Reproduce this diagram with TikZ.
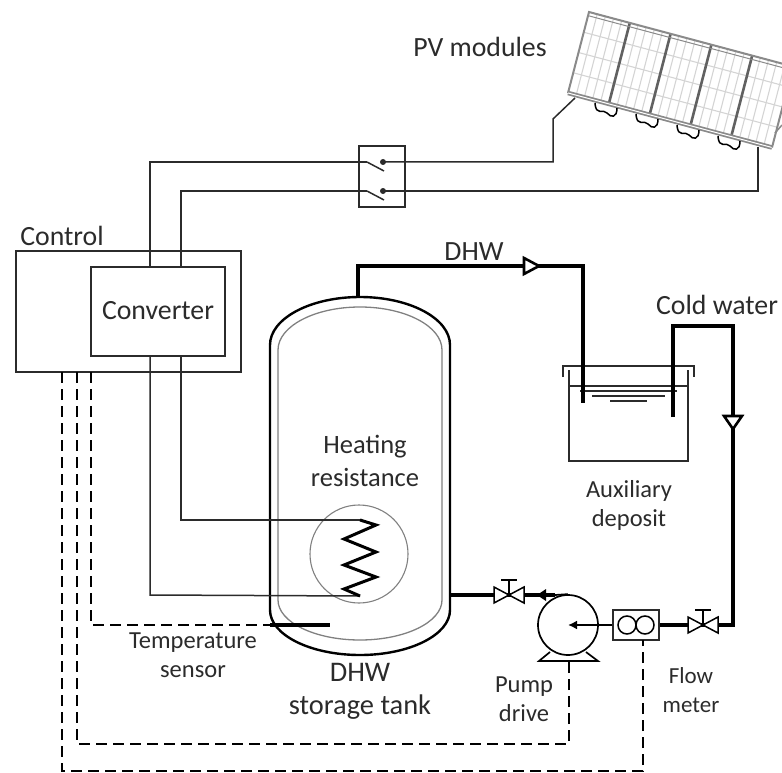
\documentclass[tikz,border=0pt]{standalone}
\usepackage{fontspec}
\setmainfont{Carlito}
\usetikzlibrary{arrows.meta}
\definecolor{inkgray}{HTML}{2B2B2B}
\definecolor{framegray}{HTML}{8A8A8A}
\definecolor{gridgray}{HTML}{D4D4D4}
\tikzset{
  wire/.style={draw=inkgray, line width=1.5pt},
  pipe/.style={draw=black, line width=3.6pt, line join=miter},
  signal/.style={draw=black, line width=1.4pt, dash pattern=on 11pt off 6pt},
  box/.style={draw=inkgray, line width=1.5pt, fill=white, inner sep=0pt},
  biglabel/.style={text=inkgray, font=\fontsize{27.8}{33}\selectfont, align=center, inner sep=0pt},
  smalllabel/.style={text=inkgray, font=\fontsize{24.5}{29}\selectfont, align=center, inner sep=0pt},
  pics/valve/.style={code={
    \draw[draw=black, line width=1.5pt, fill=white] (-15,-8) -- (15,8) -- (15,-8) -- (-15,8) -- cycle;
    \draw[draw=black, line width=1.5pt] (0,0) -- (0,-15) (-8,-15) -- (8,-15);
  }}
}
\begin{document}
\begin{tikzpicture}[x=1pt, y=-1pt]
    \useasboundingbox (0,0) rectangle (782,773);
    % panels
    \begin{scope}
    \clip (0,0) rectangle (782,773);
    \begin{scope}[shift={(589,12)}, x={(40.8pt,-10.9pt)}, y={(-21pt,-81pt)}]
      \foreach \i in {0,...,4} {
        \foreach \j in {0.2,0.4,0.6,0.8}
          \draw[gridgray, line width=1.1pt] (\i+\j,0) -- (\i+\j,1);
        \foreach \j in {0.25,0.5,0.75}
          \draw[gridgray, line width=1.1pt] (\i,\j) -- (\i+1,\j);
      }
      \foreach \i in {1,...,4}
        \draw[framegray!70!black, line width=2.6pt] (\i,0) -- (\i,1);
      \draw[framegray, line width=2pt] (0,1) -- (0,0) -- (5,0);
      \draw[framegray, line width=1pt] (0,0.045) -- (5,0.045);
      \draw[framegray, line width=4.5pt] (0,1) -- (5,1);
      \draw[white, line width=1pt] (0,1) -- (5,1);
      \draw[framegray, line width=2pt] (5,1) -- (5,0);
    \end{scope}
    \draw[framegray, line width=1.5pt] (775,133) -- (782,125);
    \end{scope}
    \foreach \i in {0,...,3}
      \draw[shift={(41*\i,11*\i)}, draw=black, line width=1.5pt] (595,103) .. controls (596,117) and (603,108) .. (607,113) .. controls (611,118) and (617,118) .. (617,108);

    % control and converter
    \node (control) [box, fill=none, minimum width=225pt, minimum height=121pt] at (128.5,311.5) {};
    \node (converter) [box, minimum width=134pt, minimum height=89pt] at (158,311.5) {};
    \node [biglabel] at (158,311) {Converter};
    \node (controllabel) [biglabel] at (62,236) {Control};

    % switches
    \node (switchbox) [box, fill=none, minimum width=46pt, minimum height=61pt] at (382,176.5) {};
    \coordinate (sw1) at (367,162);
    \coordinate (sw2) at (367,191);
    \coordinate (c1) at (383,162);
    \coordinate (c2) at (383,191);
    \coordinate (pvplus) at (575,98);
    \coordinate (pvminus) at (758,147);
    \draw[wire] (150,267) -- (150,162) -- (sw1);
    \draw[wire] (181,267) -- (181,191) -- (sw2);
    \draw[wire] (sw1) -- (384,171);
    \draw[wire] (sw2) -- (384,200);
    \draw[wire] (c1) -- (553,162) -- (553,119) -- (pvplus);
    \draw[wire] (c2) -- (758,191) -- (pvminus);
    \fill[inkgray] (c1) circle (3pt);
    \fill[inkgray] (c2) circle (3pt);

    % tank
    \draw[draw=black, line width=2.4pt] (270,345) arc[start angle=180, end angle=360, x radius=90, y radius=48]
      -- (450,610) arc[start angle=0, end angle=180, x radius=90, y radius=45] -- cycle;
    \draw[draw=gray, line width=1.3pt] (278,350) arc[start angle=180, end angle=360, x radius=82, y radius=43]
      -- (442,600) arc[start angle=0, end angle=180, x radius=82, y radius=40] -- cycle;
    \node (heater) [circle, draw=gray, line width=1.1pt, minimum size=98pt, inner sep=0pt] at (359,554) {};
    \node [biglabel, font=\fontsize{26.5}{33}\selectfont] at (365,460.5) {Heating\\resistance};
    \coordinate (coilA) at (360,520);
    \coordinate (coilB) at (360,596);
    \draw[wire] (181,356) -- (181,520) -- (coilA);
    \draw[wire] (150,356) -- (150,595) -- (coilB);
    \draw[draw=black, line width=3pt] (coilA) -- (376,525) -- (344,539) -- (376,552) -- (344,565) -- (376,577) -- (344,589) -- (coilB);

    % dhw line and deposit
    \draw[draw=inkgray, line width=1.5pt] (569,370) -- (569,461) -- (688,461) -- (688,370);
    \draw[draw=inkgray, line width=1.5pt] (563,377) -- (563,366) -- (694,366) -- (694,377);
    \draw[draw=inkgray, line width=1.2pt] (569,386) -- (688,386);
    \draw[draw=inkgray, line width=1.2pt] (580,391) -- (677,391);
    \draw[draw=inkgray, line width=1.2pt] (592,396) -- (665,396);
    \draw[draw=inkgray, line width=1.2pt] (610,401) -- (647,401);
    \draw[pipe] (358,297) -- (358,266) -- (583,266) -- (583,403);
    \draw[pipe] (673,417) -- (673,326) -- (733,326) -- (733,625) -- (659,625);
    \draw[draw=black, line width=2.6pt, fill=white] (524,258) -- (539,266) -- (524,274) -- cycle;
    \draw[draw=black, line width=2.6pt, fill=white] (724,416) -- (742,416) -- (733,429) -- cycle;
    \node [biglabel] at (474,252) {DHW};
    \node [biglabel] at (717,305) {Cold water};
    \node [biglabel] at (480,47) {PV modules};

    % pump and flow meter
    \node (pump) [circle, draw=black, line width=1.7pt, fill=white, minimum size=60pt, inner sep=0pt] at (568,625) {};
    \draw[draw=black, line width=1.7pt] (550,652) -- (539,661) -- (598,661) -- (586,652);
    \node (flowbox) [box, minimum width=46pt, minimum height=30pt] at (636,625) {};
    \draw[draw=black, line width=1.5pt] (627,625) circle (9pt) (645,625) circle (9pt);
    \draw[draw=black, line width=1.7pt, -{Latex[length=9pt,width=9pt]}] (flowbox.west) -- (pump.center);
    \draw[draw=black, line width=3.6pt] (450,595) -- (555,595);
    \draw[draw=black, line width=1.7pt] (555,595) -- (pump.north);
    \fill[black] (537,595) -- (546,589) -- (546,601) -- cycle;
    \pic at (509,595) {valve};
    \pic at (703,625) {valve};

    % signals
    \coordinate (sensor) at (270,625);
    \draw[signal] (91,372) -- (91,625) -- (sensor);
    \draw[draw=black, line width=3.6pt] (sensor) -- (330,625);
    \draw[signal] (77,372) -- (77,744) -- (569,744) -- (569,661);
    \draw[signal] (62,372) -- (62,771) -- (643,771) -- (643,640);

    % labels
    \node [smalllabel] at (193,655) {Temperature\\sensor};
    \node [biglabel, font=\fontsize{28.4}{33}\selectfont] at (360,691.5) {DHW\\storage tank};
    \node [smalllabel] at (524,699.5) {Pump\\drive};
    \node [smalllabel, font=\fontsize{23}{29}\selectfont] at (691,690.5) {Flow\\meter};
    \node [smalllabel] at (629,505.5) {Auxiliary\\deposit};
\end{tikzpicture}
\end{document}
